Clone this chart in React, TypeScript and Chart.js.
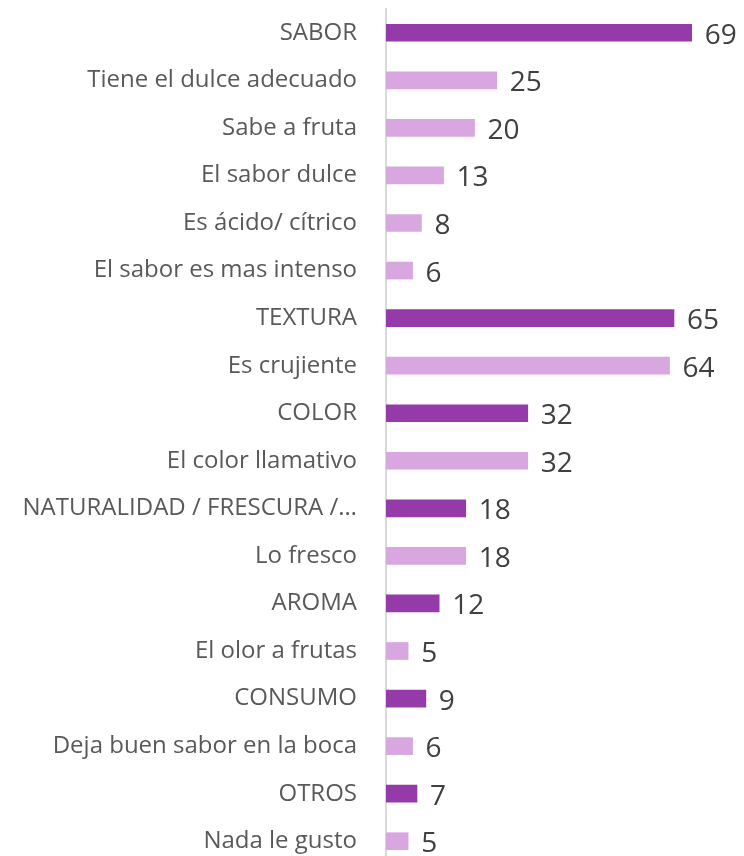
import React, { useEffect, useRef } from "react";
import { Chart, registerables } from "chart.js";

Chart.register(...registerables);

const categories = [
  "SABOR",
  "Tiene el dulce adecuado",
  "Sabe a fruta",
  "El sabor dulce",
  "Es ácido/ cítrico",
  "El sabor es mas intenso",
  "TEXTURA",
  "Es crujiente",
  "COLOR",
  "El color llamativo",
  "NATURALIDAD / FRESCURA /…",
  "Lo fresco",
  "AROMA",
  "El olor a frutas",
  "CONSUMO",
  "Deja buen sabor en la boca",
  "OTROS",
  "Nada le gusto",
];

const values = [69, 25, 20, 13, 8, 6, 65, 64, 32, 32, 18, 18, 12, 5, 9, 6, 7, 5];

const isGroup = [true, false, false, false, false, false, true, false, true, false, true, false, true, false, true, false, true, false];

const DARK = "#953ba9";
const LIGHT = "#d8a7e0";

const valueLabels = {
  id: "valueLabels",
  afterDatasetsDraw(chart: any) {
    const ctx = chart.ctx;
    const meta = chart.getDatasetMeta(0);
    ctx.save();
    ctx.font = "28px 'Open Sans'";
    ctx.fillStyle = "#404040";
    ctx.textAlign = "left";
    ctx.textBaseline = "middle";
    meta.data.forEach((bar: any, i: number) => {
      const v = chart.data.datasets[0].data[i];
      ctx.fillText(String(v), bar.x + 13, bar.y + 3);
    });
    ctx.restore();
  },
};

export default function App() {
  const ref = useRef<HTMLCanvasElement>(null);
  useEffect(() => {
    const c = new Chart(ref.current!, {
      type: "bar",
      data: {
        labels: categories,
        datasets: [
          {
            data: values,
            backgroundColor: isGroup.map((g) => (g ? DARK : LIGHT)),
            barThickness: 17,
          },
        ],
      },
      options: {
        indexAxis: "y",
        animation: false,
        responsive: false,
        maintainAspectRatio: false,
        layout: { padding: { top: 1, right: 0, bottom: 0, left: 0 } },
        plugins: { legend: { display: false }, tooltip: { enabled: false } },
        scales: {
          x: { display: false, min: 0, max: 79 },
          y: {
            grid: { display: false },
            border: { display: true, color: "#d9d9d9", width: 2 },
            ticks: {
              color: "#595959",
              font: { family: "'Open Sans'", size: 24 },
              padding: 21,
            },
            afterFit(scale: any) {
              scale.width = 378;
              scale.paddingTop = 0;
              scale.paddingBottom = 0;
            },
          },
        },
      },
      plugins: [valueLabels],
    });
    return () => c.destroy();
  }, []);
  return (
    <div style={{ height: 848, overflow: "hidden" }}>
      <canvas ref={ref} width={728} height={857} style={{ display: "block" }} />
    </div>
  );
}
